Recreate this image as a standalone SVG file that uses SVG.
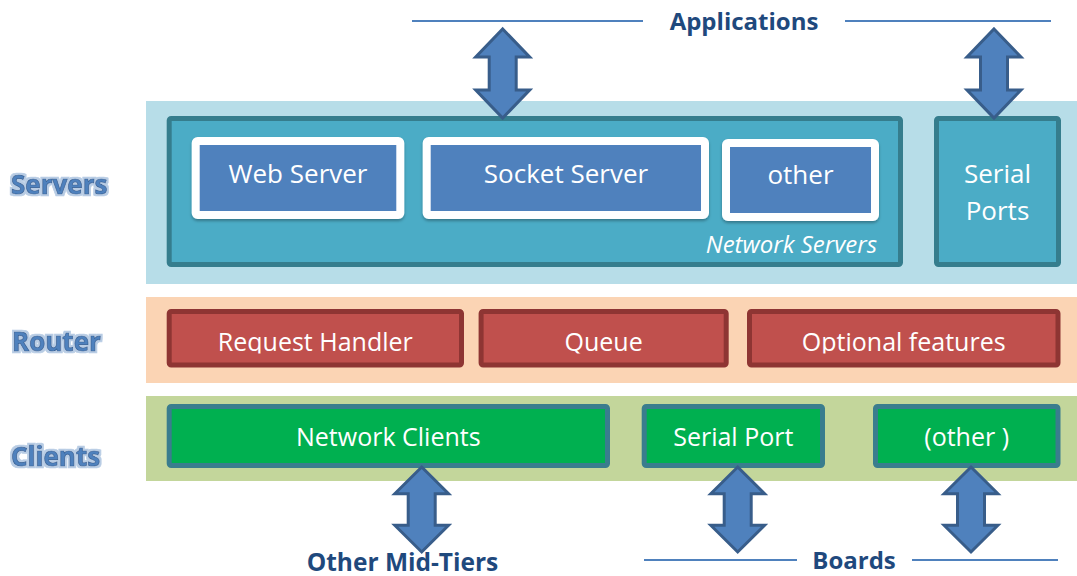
<svg xmlns="http://www.w3.org/2000/svg" xmlns:xlink="http://www.w3.org/1999/xlink" width="1077" height="576" viewBox="0 0 1077 576">
<defs>
<style>
.nsbox{fill:#4BACC6;stroke:#357D8D;stroke-width:5}
.frame{fill:#4F81BD;stroke:#fff;stroke-width:8;filter:url(#sh)}
.rbox{fill:#C0504D;stroke:#8E3533;stroke-width:5}
.cbox{fill:#00B050;stroke:#3A7D8E;stroke-width:5}
.t{font-family:"Open Sans","Noto Sans",sans-serif;fill:#fff;text-anchor:middle;font-size:25px}
.ts{font-size:26px}
.lbl{font-family:"Open Sans","Noto Sans",sans-serif;font-weight:700;font-size:26px;fill:#4F81BD;stroke:#2F5F94;stroke-width:0.7;filter:url(#glow)}
.hd{font-family:"Open Sans","Noto Sans",sans-serif;font-weight:700;font-size:24px;fill:#1F497D;text-anchor:middle}
.rule{stroke:#4F81BD;stroke-width:2;fill:none}
.arr{fill:#4F81BD;stroke:#385D8A;stroke-width:3;stroke-linejoin:miter}
</style>
<filter id="sh" x="-10%" y="-10%" width="120%" height="130%">
<feDropShadow dx="0" dy="2" stdDeviation="1.5" flood-color="#000" flood-opacity="0.3"/>
</filter>
<filter id="glow" x="-10%" y="-30%" width="120%" height="160%">
<feMorphology in="SourceAlpha" operator="dilate" radius="1.6" result="d"/>
<feFlood flood-color="#B8CCE4"/>
<feComposite in2="d" operator="in" result="g"/>
<feMerge><feMergeNode in="g"/><feMergeNode in="SourceGraphic"/></feMerge>
</filter>
<clipPath id="rclip"><rect x="140" y="300" width="937" height="53.5"/></clipPath>
<path id="dbl" d="M0,0 L27,28 L13.5,28 L13.5,61 L27,61 L0,89 L-27,61 L-13.5,61 L-13.5,28 L-27,28 Z"/>
</defs>

<g id="bands">
<rect x="146" y="101" width="931" height="183" fill="#B7DDE8"/>
<rect x="146" y="297" width="931" height="86" fill="#FBD4B4"/>
<rect x="146" y="396" width="931" height="85" fill="#C3D69B"/>
</g>

<g id="labels">
<text class="lbl" x="11" y="194">Servers</text>
<text class="lbl" x="12" y="351">Router</text>
<text class="lbl" x="11" y="466">Clients</text>
</g>

<g id="network-servers">
<rect class="nsbox" x="169.2" y="118.5" width="731.3" height="146" rx="2"/>
<text class="t" x="877" y="253" style="text-anchor:end;font-style:italic;font-size:24px">Network Servers</text>
</g>
<g id="web-server">
<rect class="frame" x="195.7" y="141" width="204.6" height="74" rx="2"/>
<text class="t ts" x="298" y="183">Web Server</text>
</g>
<g id="socket-server">
<rect class="frame" x="426.7" y="141" width="278.3" height="74" rx="2"/>
<text class="t ts" x="566" y="183">Socket Server</text>
</g>
<g id="other-server">
<rect class="frame" x="726" y="143" width="149" height="74" rx="2"/>
<text class="t ts" x="800.5" y="184">other</text>
</g>
<g id="serial-ports">
<rect class="nsbox" x="936.5" y="118.5" width="122" height="146" rx="2"/>
<text class="t ts" x="997.5" y="183">Serial</text>
<text class="t ts" x="997.5" y="220">Ports</text>
</g>

<g id="request-handler">
<rect class="rbox" x="169.2" y="311.5" width="292.3" height="53.5" rx="2"/>
<text class="t" x="315.3" y="351" clip-path="url(#rclip)">Request Handler</text>
</g>
<g id="queue">
<rect class="rbox" x="481.1" y="311.5" width="245.1" height="53.5" rx="2"/>
<text class="t" x="603.6" y="351" clip-path="url(#rclip)">Queue</text>
</g>
<g id="optional-features">
<rect class="rbox" x="749.5" y="311.5" width="308.5" height="53.5" rx="2"/>
<text class="t" x="903.7" y="351" clip-path="url(#rclip)">Optional features</text>
</g>

<g id="network-clients">
<rect class="cbox" x="169.2" y="406.5" width="438.3" height="59" rx="2"/>
<text class="t" x="388.3" y="446">Network Clients</text>
</g>
<g id="serial-port">
<rect class="cbox" x="644.2" y="406.5" width="178.3" height="59" rx="2"/>
<text class="t" x="733.3" y="446">Serial Port</text>
</g>
<g id="other-client">
<rect class="cbox" x="875.5" y="406.5" width="182.5" height="59" rx="2"/>
<text class="t" x="966.7" y="446">(other )</text>
</g>

<g id="applications">
<line class="rule" x1="412" y1="21" x2="643" y2="21"/>
<line class="rule" x1="845" y1="21" x2="1051" y2="21"/>
<text class="hd" x="744" y="30">Applications</text>
</g>
<g id="other-mid-tiers">
<text class="hd" x="402.5" y="571" style="font-size:24.5px">Other Mid-Tiers</text>
</g>
<g id="boards">
<line class="rule" x1="644" y1="560" x2="797" y2="560"/>
<line class="rule" x1="912" y1="560" x2="1058" y2="560"/>
<text class="hd" x="854" y="569">Boards</text>
</g>

<g id="connectors">
<use xlink:href="#dbl" class="arr" transform="translate(502.7,29)"/>
<use xlink:href="#dbl" class="arr" transform="translate(994,29)"/>
<use xlink:href="#dbl" class="arr" transform="translate(421.7,467) scale(1,0.955)"/>
<use xlink:href="#dbl" class="arr" transform="translate(737.7,467) scale(1,0.955)"/>
<use xlink:href="#dbl" class="arr" transform="translate(971,467) scale(1,0.955)"/>
</g>
</svg>
